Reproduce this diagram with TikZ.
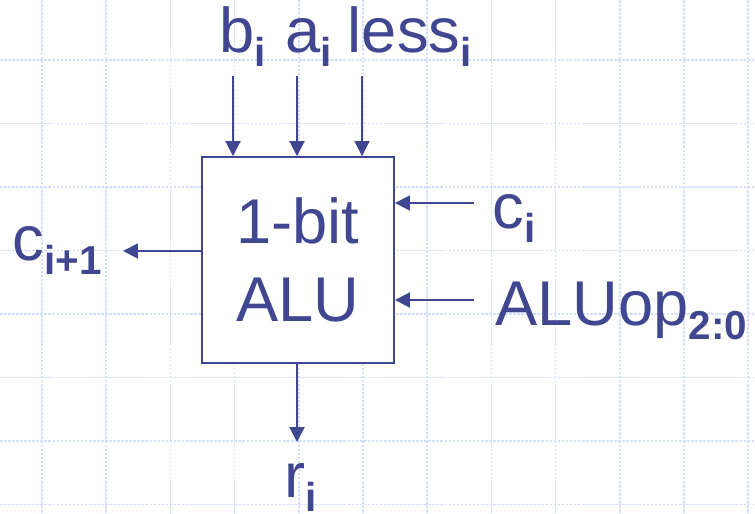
\documentclass[tikz,border=0pt]{standalone}
\usepackage{fontspec}
\setmainfont{Liberation Sans}
\usepackage{xcolor}
\usetikzlibrary{arrows.meta,positioning}

\definecolor{alublue}{RGB}{64,71,144}
\definecolor{gridblue}{RGB}{212,224,252}

\newcommand{\biglbl}{\fontsize{36}{44.2}\selectfont}
\newcommand{\subl}[1]{\raisebox{-8pt}{\fontsize{23}{23}\selectfont\bfseries #1}}

\begin{document}
\begin{tikzpicture}[
    x=0.02cm, y=-0.02cm,
    gridline/.style={
        draw=gridblue,
        line width=0.9pt,
        dash pattern=on 1.5pt off 0.8pt
    },
    alubox/.style={
        draw=alublue,
        fill=white,
        line width=1.1pt,
        minimum width=3.84cm,
        minimum height=4.12cm,
        inner sep=0pt,
        align=center,
        text=alublue,
        font=\biglbl
    },
    lbl/.style={
        anchor=base west,
        inner sep=0pt,
        text=alublue,
        font=\biglbl
    },
    sig/.style={
        -{Triangle[length=0.3cm,width=0.3cm]},
        line width=1.1pt,
        draw=alublue
    }
]
\useasboundingbox (0,0) rectangle (755,514);
% Background grid
\foreach \i in {0,...,11}
    \draw[gridline] (42+64.2*\i,0) -- (42+64.2*\i,514);
\foreach \j in {0,...,7}
    \draw[gridline] (0,60+63.5*\j) -- (755,60+63.5*\j);

% The ALU block
\node[alubox] at (298,260) (alu) {1-bit\\ALU};

% Input labels on top
\node[lbl] at (219,52) (bi) {b\subl{i}};
\node[lbl] at (285,52) (ai) {a\subl{i}};
\node[lbl] at (347.5,52) (lessi) {less\subl{i}};
% Inputs on the right
\node[lbl] at (492.5,228) (ci) {c\subl{i}};
\node[lbl] at (495,325) (aluop) {ALUop\subl{2:0}};
% Outputs
\node[lbl] at (12.5,260) (cout) {c\subl{i+1}};
\node[lbl] at (284,497) (ri) {r\subl{i}};

% Arrow ends
\coordinate (bitop) at (233,76);
\coordinate (aitop) at (297,76);
\coordinate (lesstop) at (362,76);
\coordinate (cistart) at (474,203);
\coordinate (opstart) at (474,300);
\coordinate (coutend) at (123,251);
\coordinate (riend) at (297,442);

% Signals into the block
\draw[sig] (bitop) -- (bitop |- alu.north);
\draw[sig] (aitop) -- (aitop |- alu.north);
\draw[sig] (lesstop) -- (lesstop |- alu.north);
\draw[sig] (cistart) -- (cistart -| alu.east);
\draw[sig] (opstart) -- (opstart -| alu.east);
% Signals out of the block
\draw[sig] (coutend -| alu.west) -- (coutend);
\draw[sig] (riend |- alu.south) -- (riend);
\end{tikzpicture}
\end{document}
